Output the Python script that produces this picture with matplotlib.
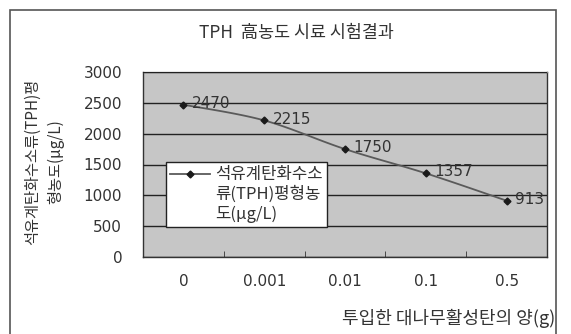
# coding=utf-8
import numpy as np
import matplotlib
matplotlib.use('Agg')
import matplotlib.pyplot as plt
from matplotlib.patches import Rectangle

plt.rcParams['font.family'] = ['Noto Sans CJK KR', 'DejaVu Sans']

# du lieu
nhan_x = ['0', '0.001', '0.01', '0.1', '0.5']
nong_do = [2470, 2215, 1750, 1357, 913]
nhan_y = [0, 500, 1000, 1500, 2000, 2500, 3000]

tieu_de = 'TPH  高농도 시료 시험결과'
ten_truc_x = '투입한 대나무활성탄의 양(g)'
ten_truc_y = '석유계탄화수소류(TPH)평\n형농도(\u03bcg/L)'
ten_chu_giai = '석유계탄화수소\n류(TPH)평형농\n도(\u03bcg/L)'

mau_chu = '#333333'
font_so = ['DejaVu Sans']


def duong_cong(x, y, n=30):
    # duong cong tron kieu Catmull-Rom qua cac diem
    x = np.asarray(x, float)
    y = np.asarray(y, float)
    px = np.concatenate([[x[0]], x, [x[-1]]])
    py = np.concatenate([[y[0]], y, [y[-1]]])
    xs, ys = [], []
    t = np.linspace(0, 1, n)
    for i in range(1, len(px) - 2):
        p0, p1, p2, p3 = (np.array([px[j], py[j]]) for j in range(i - 1, i + 3))
        for tt in t:
            v = 0.5 * ((2 * p1) + (-p0 + p2) * tt
                       + (2 * p0 - 5 * p1 + 4 * p2 - p3) * tt ** 2
                       + (-p0 + 3 * p1 - 3 * p2 + p3) * tt ** 3)
            xs.append(v[0])
            ys.append(v[1])
    return xs, ys


fig = plt.figure(figsize=(5.71, 3.34), dpi=100)
fig.patch.set_facecolor('white')
fig.patches.append(Rectangle((10 / 571, -0.02), 546 / 571, 1.005 - 5 / 334,
                             transform=fig.transFigure, fill=False,
                             edgecolor='#555555', linewidth=1.2))

ax = fig.add_axes([143 / 571, 77 / 334, 404 / 571, 185 / 334])
ax.set_facecolor('#c6c6c6')

vi_tri = np.arange(len(nhan_x))
cx, cy = duong_cong(vi_tri, nong_do)
ax.plot(cx, cy, color='#5a5a5a', linewidth=1.3, zorder=3)
ax.plot(vi_tri, nong_do, linestyle='none', marker='D', markersize=3.5,
        color='#1a1a1a', zorder=4)
# duong mau cho chu giai
ax.plot([], [], color='#5a5a5a', linewidth=1.3, marker='D', markersize=3.5,
        markerfacecolor='#1a1a1a', markeredgecolor='#1a1a1a', label=ten_chu_giai)

for xi, yi in zip(vi_tri, nong_do):
    ax.annotate(str(yi), (xi, yi), xytext=(6, 1), textcoords='offset points',
                ha='left', va='center', fontsize=11, color=mau_chu,
                family=font_so, zorder=5)

ax.set_xlim(-0.5, len(nhan_x) - 0.5)
ax.set_ylim(0, 3000)
ax.set_xticks(vi_tri)
ax.set_xticklabels(nhan_x, family=font_so)
ax.set_xticks(vi_tri[:-1] + 0.5, minor=True)
ax.set_yticks(nhan_y)
ax.set_yticklabels([str(v) for v in nhan_y], family=font_so)
ax.tick_params(axis='x', which='major', length=0, pad=12, labelsize=11,
               labelcolor=mau_chu)
ax.tick_params(axis='x', which='minor', direction='in', length=4,
               color=mau_chu)
ax.tick_params(axis='y', length=0, pad=15, labelsize=11, labelcolor=mau_chu)
ax.yaxis.grid(True, color='#222222', linewidth=1.0)
ax.set_axisbelow(False)
for s in ax.spines.values():
    s.set_color(mau_chu)
    s.set_linewidth(1.0)
ax.spines['top'].set_color('#888888')

fig.text(296 / 571, 1 - 33 / 334, tieu_de, ha='center', va='center',
         fontsize=12.5, color=mau_chu)
fig.text(555 / 571, 1 - 318 / 334, ten_truc_x, ha='right', va='center',
         fontsize=13, color=mau_chu)
fig.text(44 / 571, 1 - 162 / 334, ten_truc_y, ha='center', va='center',
         rotation=90, fontsize=11, color=mau_chu, linespacing=1.45,
         multialignment='center')

leg = ax.legend(loc='upper left', bbox_to_anchor=(23 / 404, 1 - 90 / 185),
                frameon=True, fancybox=False, edgecolor='#222222', framealpha=1,
                fontsize=12, handlelength=2.4, borderpad=0.25, handletextpad=0.3,
                borderaxespad=0, labelcolor=mau_chu)
# dua ky hieu len dong dau cua chu giai
h = leg.legend_handles[0]
h.set_ydata(np.asarray(h.get_ydata()) + 15)

fig.savefig('out.png', dpi=100)
